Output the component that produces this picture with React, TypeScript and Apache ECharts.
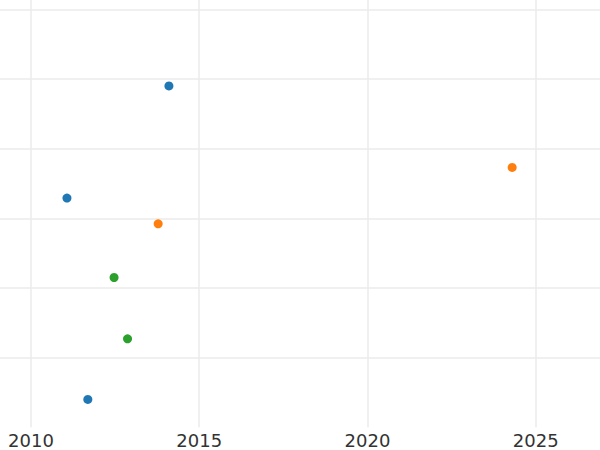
import React, { useEffect, useRef } from "react";
import * as echarts from "echarts";

const xTicks = [2010, 2015, 2020, 2025];
const blueX = [2014.1, 2011.07, 2011.69];
const blueY = [4.9, 3.29, 0.4];
const orangeX = [2024.3, 2013.78];
const orangeY = [3.73, 2.92];
const greenX = [2012.47, 2012.87];
const greenY = [2.15, 1.27];

const pairs = (xs: number[], ys: number[]) => xs.map((x, i) => [x, ys[i]]);

export default function App() {
  const ref = useRef<HTMLDivElement>(null);
  useEffect(() => {
    if (!ref.current) return;
    const chart = echarts.init(ref.current, null, { renderer: "svg" });
    const grid = { color: "#ebebeb", width: 1.5 };
    chart.setOption({
      animation: false,
      backgroundColor: "#ffffff",
      grid: { left: 0, right: 0, top: 0, bottom: 22.7, containLabel: false },
      xAxis: {
        type: "value",
        min: 2009.08,
        max: 2026.91,
        axisLine: { show: false },
        axisTick: { show: false, customValues: xTicks },
        axisLabel: {
          customValues: xTicks,
          formatter: (v: number) => String(Math.round(v)),
          color: "#333333",
          fontSize: 18,
          fontFamily: "DejaVu Sans",
          margin: 4,
        },
        splitLine: { show: true, lineStyle: grid },
      },
      yAxis: {
        type: "value",
        min: 0,
        max: 6.133,
        interval: 1,
        axisLine: { show: false },
        axisTick: { show: false },
        axisLabel: { show: false },
        splitLine: { show: true, showMinLine: false, showMaxLine: false, lineStyle: grid },
      },
      series: [
        { type: "scatter", data: pairs(blueX, blueY), symbolSize: 9, itemStyle: { color: "#1f77b4", opacity: 1 } },
        { type: "scatter", data: pairs(orangeX, orangeY), symbolSize: 9, itemStyle: { color: "#ff7f0e", opacity: 1 } },
        { type: "scatter", data: pairs(greenX, greenY), symbolSize: 9, itemStyle: { color: "#2ca02c", opacity: 1 } },
      ],
    });
    return () => chart.dispose();
  }, []);
  return (
    <div
      ref={ref}
      style={{ position: "fixed", left: 0, top: 0, width: 600, height: 450 }}
    />
  );
}
